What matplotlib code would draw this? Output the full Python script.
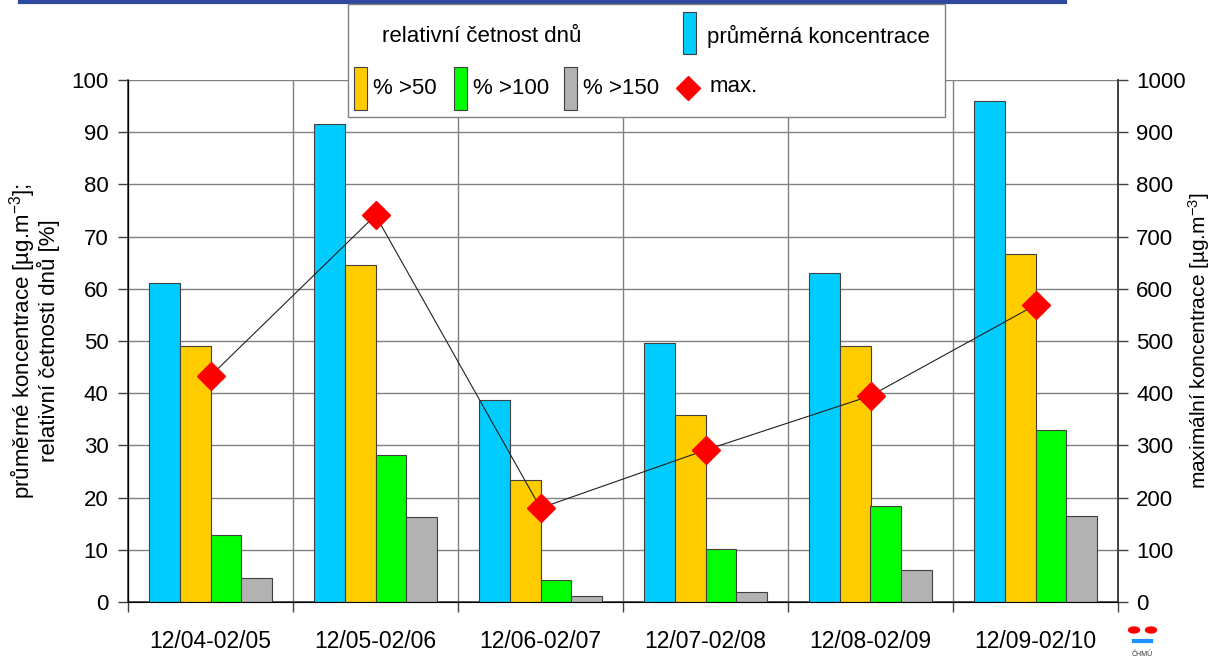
import numpy as np
import matplotlib
matplotlib.use('Agg')
import matplotlib.pyplot as plt
from matplotlib.patches import Rectangle, Circle
from matplotlib.lines import Line2D

plt.rcParams['font.family'] = ['Liberation Sans', 'DejaVu Sans']
plt.rcParams['mathtext.fontset'] = 'custom'
plt.rcParams['mathtext.rm'] = 'Liberation Sans'
plt.rcParams['mathtext.it'] = 'Liberation Sans'

# data
periods = ['12/04-02/05', '12/05-02/06', '12/06-02/07', '12/07-02/08', '12/08-02/09', '12/09-02/10']
mean_conc = [61.1, 91.6, 38.7, 49.6, 63.0, 96.0]
pct_50 = [49.0, 64.6, 23.4, 35.8, 49.0, 66.7]
pct_100 = [12.8, 28.2, 4.2, 10.2, 18.4, 33.0]
pct_150 = [4.6, 16.3, 1.1, 1.9, 6.1, 16.5]
max_conc = [433, 741, 180, 291, 395, 569]

colors = ['#00CCFF', '#FFCC00', '#00FF00', '#B2B2B2']
series = [mean_conc, pct_50, pct_100, pct_150]

fig = plt.figure(figsize=(12.16, 6.6), dpi=100)
ax = fig.add_axes([128 / 1216, 1 - 602 / 660, 990 / 1216, 522 / 660])

x = np.arange(len(periods))
w = 0.187
for i, (vals, c) in enumerate(zip(series, colors)):
    ax.bar(x + (i - 1.5) * w, vals, width=w, color=c, edgecolor='#404040', linewidth=0.8, zorder=3)

ax.set_xlim(-0.5, len(periods) - 0.5)
ax.set_ylim(0, 100)
ax.set_yticks(np.arange(0, 101, 10))
ax.set_xticks(x)
ax.set_xticklabels(periods, fontsize=16.5)
ax.set_xticks(np.arange(-0.5, len(periods)), minor=True)
ax.tick_params(axis='x', which='major', length=0, pad=20)
ax.tick_params(axis='x', which='minor', length=7, width=1, color='#404040')
ax.tick_params(axis='y', labelsize=16, length=7, width=1, color='#404040', pad=7)
ax.yaxis.grid(True, color='#808080', linewidth=1, zorder=0)
ax.xaxis.grid(True, which='minor', color='#808080', linewidth=1, zorder=0)
ax.set_axisbelow(True)
ax.spines['top'].set_visible(False)
for s in ['left', 'right', 'bottom']:
    ax.spines[s].set_color('#404040')
    ax.spines[s].set_linewidth(1.2)
ax.set_ylabel('průměrné koncentrace [µg.m$^{-3}$];\nrelativní četnosti dnů [%]', fontsize=16,
              labelpad=8, linespacing=0.95)

ax2 = ax.twinx()
ax2.set_ylim(0, 1000)
ax2.set_yticks(np.arange(0, 1001, 100))
ax2.tick_params(axis='y', labelsize=16, length=7, width=1, color='#404040', pad=6)
ax2.spines['top'].set_visible(False)
ax2.spines['right'].set_color('#404040')
ax2.spines['right'].set_linewidth(1.2)
ax2.plot(x, max_conc, color='#202020', linewidth=0.8, marker='D', markersize=14,
         markerfacecolor='#FF0000', markeredgecolor='#FF0000', zorder=5)
ax2.set_ylabel('maximální koncentrace [µg.m$^{-3}$]', fontsize=15, labelpad=0)

# legend box drawn by hand
def fx(px):
    return px / 1216

def fy(py):
    return 1 - py / 660

fig.add_artist(Rectangle((fx(348), fy(117)), fx(945) - fx(348), fy(4) - fy(117),
                         facecolor='white', edgecolor='#808080', linewidth=1, zorder=10))
fs = 16
fig.text(fx(382), fy(36), 'relativní četnost dnů', fontsize=fs, va='center', zorder=11)
fig.add_artist(Rectangle((fx(683), fy(54)), fx(13), fy(12) - fy(54), facecolor=colors[0],
                         edgecolor='#404040', linewidth=0.8, zorder=11))
fig.text(fx(707), fy(36), 'průměrná koncentrace', fontsize=fs, va='center', zorder=11)
items = [(354, colors[1], '% >50'), (454, colors[2], '% >100'), (564, colors[3], '% >150')]
for px, c, lab in items:
    fig.add_artist(Rectangle((fx(px), fy(110)), fx(13), fy(67) - fy(110), facecolor=c,
                             edgecolor='#404040', linewidth=0.8, zorder=11))
    fig.text(fx(px + 19), fy(89), lab, fontsize=fs, va='center', zorder=11)
fig.add_artist(Line2D([fx(688)], [fy(88)], marker='D', markersize=12, color='#FF0000',
                      linestyle='none', zorder=11))
fig.text(fx(710), fy(86), 'max.', fontsize=fs, va='center', zorder=11)

# clipped heading line at the top
fig.add_artist(Line2D([fx(20), fx(1065)], [fy(1.5), fy(1.5)], color='#2E4A9E', linewidth=3))

# small logo
for cx in [1134, 1151]:
    fig.add_artist(Circle((fx(cx), fy(630)), 0.0045, transform=fig.transFigure, color='#FF0000'))
fig.add_artist(Line2D([fx(1134), fx(1151)], [fy(641), fy(641)], color='#1E90FF', linewidth=3))
fig.text(fx(1142), fy(654), 'ČHMÚ', fontsize=5, ha='center', va='center', color='#333333')

fig.savefig('out.png', dpi=100)
